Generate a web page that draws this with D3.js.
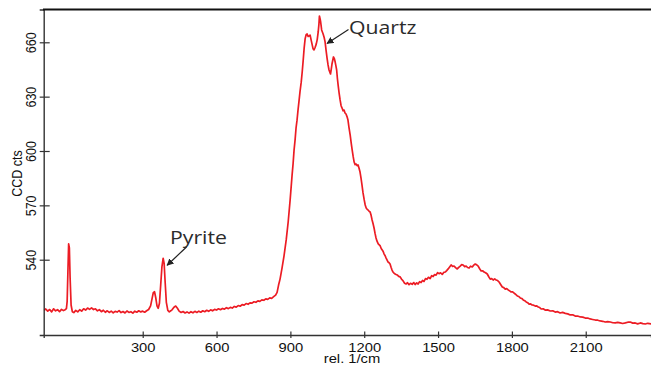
<!DOCTYPE html>
<html>
<head>
<meta charset="utf-8">
<script src="https://cdn.jsdelivr.net/npm/d3@7/dist/d3.min.js"></script>
<style>
  html, body { margin: 0; padding: 0; background: #fff; }
  svg { display: block; }
  .tick text, .lbl { font-family: "Liberation Sans", Arial, sans-serif; fill: #111; }
  .note { font-family: "Open Sans", "Noto Sans", sans-serif; fill: #2b2b2b; }
</style>
</head>
<body>
<svg id="chart" width="651" height="378"></svg>
<script>
// Raman shift (rel. 1/cm)
const shift = [
  -102, -94, -86, -78, -70, -62, -54, -46, -38, -30, -22, -15,
  -10, -7, -4, -1, 2, 5, 9, 14,
  20, 28, 36, 44, 52, 60, 68, 76, 84, 92, 100, 108, 116, 124, 132, 140, 148, 156, 164, 172,
  180, 188, 196, 204, 212, 220, 228, 236, 244, 252, 260, 268, 276, 284, 292, 300, 308, 316,
  324, 332, 338, 343, 348, 353, 358, 363, 368, 373, 378, 383, 387, 391, 396, 402, 408, 414,
  420, 427, 434, 441, 448, 456, 464, 472, 480, 488, 496, 504, 512, 520, 528, 536, 544, 552,
  560, 568, 576, 584, 592, 600, 608, 616, 624, 632, 640, 648, 656, 664, 672, 680, 688, 696,
  704, 712, 720, 728, 736, 744, 752, 760, 768, 776, 784, 792, 800, 808, 816, 824, 832, 840,
  846, 852, 858, 866, 874, 883, 891, 899, 907, 911, 915, 919, 923, 927, 931, 935, 939, 944,
  948, 952, 956, 960, 964, 968, 972, 976, 980, 984, 988, 992, 996, 1000, 1005, 1009, 1013,
  1016, 1018, 1021, 1023, 1027, 1033, 1037, 1041, 1045, 1049, 1053, 1057, 1063, 1066, 1069,
  1075, 1079, 1082, 1085, 1088, 1091, 1094, 1098, 1102, 1106, 1110, 1114, 1118, 1122, 1126,
  1130, 1134, 1138, 1143, 1147, 1151, 1155, 1159, 1163, 1167, 1171, 1175, 1179, 1183, 1187,
  1191, 1195, 1200, 1204, 1208, 1212, 1216, 1220, 1224, 1228, 1232, 1236, 1240, 1244, 1248,
  1252, 1257, 1261, 1265, 1269, 1273, 1277, 1281, 1285, 1289, 1293, 1297, 1301, 1305, 1309,
  1313, 1317, 1321, 1327, 1334, 1340, 1346, 1352, 1358, 1364, 1370, 1376, 1382, 1388, 1395,
  1401, 1407, 1413, 1419, 1425, 1431, 1437, 1443, 1449, 1455, 1461, 1468, 1474, 1480, 1486,
  1492, 1498, 1504, 1510, 1517, 1523, 1529, 1535, 1541, 1547, 1553, 1559, 1565, 1571, 1578,
  1584, 1590, 1596, 1602, 1608, 1614, 1620, 1626, 1632, 1639, 1645, 1651, 1657, 1663, 1669,
  1675, 1681, 1687, 1693, 1700, 1706, 1712, 1718, 1724, 1730, 1736, 1742, 1748, 1755, 1761,
  1767, 1773, 1779, 1785, 1791, 1797, 1803, 1809, 1816, 1822, 1828, 1834, 1840, 1846, 1852,
  1858, 1864, 1870, 1876, 1882, 1888, 1895, 1901, 1907, 1913, 1919, 1927, 1935, 1945, 1956,
  1966, 1976, 1986, 1996, 2006, 2017, 2027, 2037, 2047, 2057, 2067, 2078, 2088, 2098, 2108,
  2118, 2128, 2139, 2149, 2159, 2169, 2179, 2189, 2200, 2210, 2220, 2230, 2240, 2250, 2261,
  2271, 2281, 2291, 2301, 2311, 2322, 2332, 2342, 2352, 2366
];

// CCD counts at each shift
const counts = [
  512.0, 512.8, 511.6, 512.5, 511.2, 512.9, 511.8, 512.4, 511.3, 512.6, 511.9, 512.4,
  513.0, 517.0, 533.0, 548.7, 546.5, 530.0, 515.0, 511.3,
  510.8, 512.0, 511.2, 512.4, 511.6, 512.9, 512.2, 513.3, 512.6, 513.4, 512.5, 512.9, 511.8, 512.4, 511.3, 512.1, 511.0, 511.8, 510.9, 511.6,
  510.7, 511.5, 511.1, 511.9, 510.8, 511.4, 510.6, 511.7, 510.9, 511.3, 510.5, 511.6, 511.0, 511.8, 511.2, 511.6, 511.0, 511.8,
  512.5, 514.5, 518.5, 521.8, 522.3, 519.0, 514.5, 513.2, 516.0, 526.0, 536.0, 540.8, 538.0, 528.0, 516.5, 512.0, 511.2, 511.8,
  512.5, 513.8, 514.4, 513.2, 511.6, 510.9, 511.4, 510.6, 511.2, 510.5, 511.3, 510.7, 511.5, 510.9, 511.6, 511.0, 511.8, 511.3,
  512.1, 511.5, 512.3, 511.8, 512.6, 512.2, 512.9, 512.4, 513.1, 512.7, 513.5, 513.0, 513.7, 513.3, 514.2, 513.8, 514.7, 514.3,
  515.2, 514.9, 515.8, 515.4, 516.2, 516.0, 516.8, 516.5, 517.3, 517.0, 517.8, 517.6, 518.4, 518.1, 518.9, 518.7, 519.6, 520.5,
  522.0, 526.0, 529.3, 535.4, 542.0, 550.9, 560.8, 573.0, 586.8, 593.0, 600.6, 606.0, 612.7, 617.0, 622.6, 627.5, 632.6, 638.0,
  643.6, 650.0, 656.9, 662.0, 664.2, 664.6, 663.2, 663.5, 664.0, 661.5, 659.0, 656.5, 655.8, 657.0, 659.0, 661.5, 665.7,
  670.0, 674.5, 672.8, 671.2, 666.8, 664.6, 662.8, 660.2, 655.5, 651.3, 647.5, 644.7, 642.5, 645.0, 648.0,
  651.9, 650.8, 649.1, 647.0, 644.7, 640.0, 636.4, 632.0, 628.2, 625.0, 623.7, 622.2, 622.6, 621.0, 620.4,
  619.0, 617.1, 613.0, 608.8, 604.5, 600.6, 597.0, 593.9, 592.5, 592.8, 591.9, 592.3, 590.5, 588.4, 585.0,
  581.2, 577.0, 573.0, 570.2, 568.5, 567.8, 567.4, 566.7, 566.3, 564.5, 561.9, 559.8, 557.5, 554.5, 552.0,
  550.2, 548.7, 548.2, 547.6, 546.2, 545.4, 544.5, 543.1, 542.2, 540.9, 539.8, 538.7, 538.3, 537.6, 535.8,
  534.3, 533.2, 532.6, 532.0, 531.6, 530.8, 530.5, 529.2, 528.3, 527.0, 526.6, 527.3, 526.2, 527.0, 526.4,
  527.4, 526.3, 527.2, 526.6, 527.9, 527.4, 528.6, 528.0, 529.6, 529.2, 530.3, 529.6, 531.2, 530.7, 531.8,
  531.5, 532.9, 532.3, 532.8, 531.9, 533.0, 533.2, 534.0, 534.9, 536.0, 537.1, 536.3, 536.5, 535.6, 534.9,
  535.8, 536.5, 537.3, 537.1, 536.2, 536.5, 535.7, 535.4, 536.4, 536.0, 537.0, 537.6, 537.2, 536.5, 535.0,
  533.8, 533.9, 533.2, 532.8, 532.1, 530.6, 529.3, 529.6, 528.8, 529.4, 528.8, 528.5, 527.7, 526.2, 524.9,
  524.6, 523.8, 524.0, 523.3, 522.8, 522.2, 522.3, 521.6, 520.8, 520.0, 519.7, 518.9, 518.6, 517.8, 517.4,
  516.7, 516.3, 515.5, 515.6, 515.0, 514.9, 514.4, 514.5, 513.9, 513.6, 512.8, 512.9, 512.2, 512.3, 511.7,
  511.8, 511.1, 511.3, 510.6, 510.9, 510.4, 510.1, 509.5, 509.6, 508.9, 508.9, 508.4, 508.3, 507.8, 507.8,
  507.3, 507.0, 506.7, 506.6, 506.2, 506.0, 505.6, 505.8, 505.6, 505.2, 505.1, 505.4, 505.1, 504.8, 505.1,
  505.5, 505.6, 505.0, 505.1, 504.6, 505.1, 504.7, 504.5, 504.9, 504.5
];

const xTicks = [300, 600, 900, 1200, 1500, 1800, 2100];
const yTicks = [540, 570, 600, 630, 660];

// Band labels: text, and the point on the spectrum each arrow marks
const bandNames = ["Pyrite", "Quartz"];
const bandShift = [383, 1041];
const bandCounts = [540.8, 660.2];

const plotLeft = 43.7, plotRight = 651, plotTop = 9.5, plotBottom = 335;
const stretch = 1.18;

const svg = d3.select("#chart");

const x = d3.scaleLinear().domain([-102.3, 2365.2]).range([plotLeft, plotRight]);
const y = d3.scaleLinear().domain([498.44, 678.1]).range([plotBottom, plotTop]);

svg.append("defs").append("clipPath").attr("id", "plotclip")
  .append("rect").attr("x", plotLeft).attr("y", plotTop)
  .attr("width", plotRight - plotLeft).attr("height", plotBottom - plotTop);

// spectrum
const data = shift.map((s, i) => [s, counts[i]]);
svg.append("path")
  .datum(data)
  .attr("clip-path", "url(#plotclip)")
  .attr("fill", "none")
  .attr("stroke", "#ec1c24")
  .attr("stroke-width", 1.7)
  .attr("stroke-linejoin", "round")
  .attr("d", d3.line().x(d => x(d[0])).y(d => y(d[1])));

// x axis
const gx = svg.append("g").attr("transform", `translate(0,${plotBottom})`)
  .call(d3.axisBottom(x).tickValues(xTicks).tickFormat(d3.format("d"))
    .tickSizeOuter(0).tickSize(3).tickPadding(0));
gx.select(".domain").attr("stroke", "#333").attr("stroke-width", 1.3);
gx.selectAll(".tick line").attr("y1", -3.5).attr("y2", 3).attr("stroke", "#333").attr("stroke-width", 1.2);
gx.selectAll(".tick text")
  .attr("y", 0).attr("dy", null)
  .attr("font-size", 12.5)
  .attr("transform", `translate(0,16.5) scale(${stretch},1)`);

// y axis
const gy = svg.append("g").attr("transform", `translate(${plotLeft},0)`)
  .call(d3.axisLeft(y).tickValues(yTicks).tickFormat(d3.format("d"))
    .tickSizeOuter(0).tickSize(4));
gy.select(".domain").attr("stroke", "#333").attr("stroke-width", 1.4);
gy.selectAll(".tick line").attr("x1", -4).attr("x2", 6).attr("stroke", "#333").attr("stroke-width", 1.2);
gy.selectAll(".tick text")
  .attr("x", 0).attr("y", 0).attr("dy", null).attr("dx", null)
  .attr("text-anchor", "middle")
  .attr("font-size", 12.5)
  .attr("transform", `translate(-8,0) scale(${stretch},1) rotate(-90)`);

// frame top line
svg.append("line")
  .attr("x1", plotLeft - 0.7).attr("x2", plotRight).attr("y1", plotTop).attr("y2", plotTop)
  .attr("stroke", "#111").attr("stroke-width", 1.8);

// axis titles
svg.append("text").attr("class", "lbl")
  .attr("text-anchor", "middle").attr("font-size", 12.5)
  .attr("transform", `translate(352,362.5) scale(${stretch},1)`)
  .text("rel. 1/cm");
svg.append("text").attr("class", "lbl")
  .attr("text-anchor", "middle").attr("font-size", 12.5)
  .attr("transform", `translate(21.5,173.5) scale(${stretch},1) rotate(-90)`)
  .text("CCD cts");

// band annotations with arrows
svg.append("defs").append("marker")
  .attr("id", "arrowhead").attr("viewBox", "0 0 10 10")
  .attr("refX", 9).attr("refY", 5)
  .attr("markerWidth", 7).attr("markerHeight", 7)
  .attr("markerUnits", "userSpaceOnUse")
  .attr("orient", "auto")
  .append("path").attr("d", "M0,0 L10,5 L0,10 Z").attr("fill", "#222");

const noteText = [[170, 243.5], [349, 33.5]];
const arrowFrom = [[186.5, 247], [348.5, 29.5]];
const arrowTip = [[4, 7], [2, 1.5]];

bandNames.forEach((name, i) => {
  const px = x(bandShift[i]) + arrowTip[i][0];
  const py = y(bandCounts[i]) + arrowTip[i][1];
  svg.append("line")
    .attr("x1", arrowFrom[i][0]).attr("y1", arrowFrom[i][1])
    .attr("x2", px).attr("y2", py)
    .attr("stroke", "#222").attr("stroke-width", 1.2)
    .attr("marker-end", "url(#arrowhead)");
  svg.append("text").attr("class", "note")
    .attr("font-size", 18)
    .attr("transform", `translate(${noteText[i][0]},${noteText[i][1]}) scale(${stretch},1)`)
    .text(name);
});
</script>
</body>
</html>
